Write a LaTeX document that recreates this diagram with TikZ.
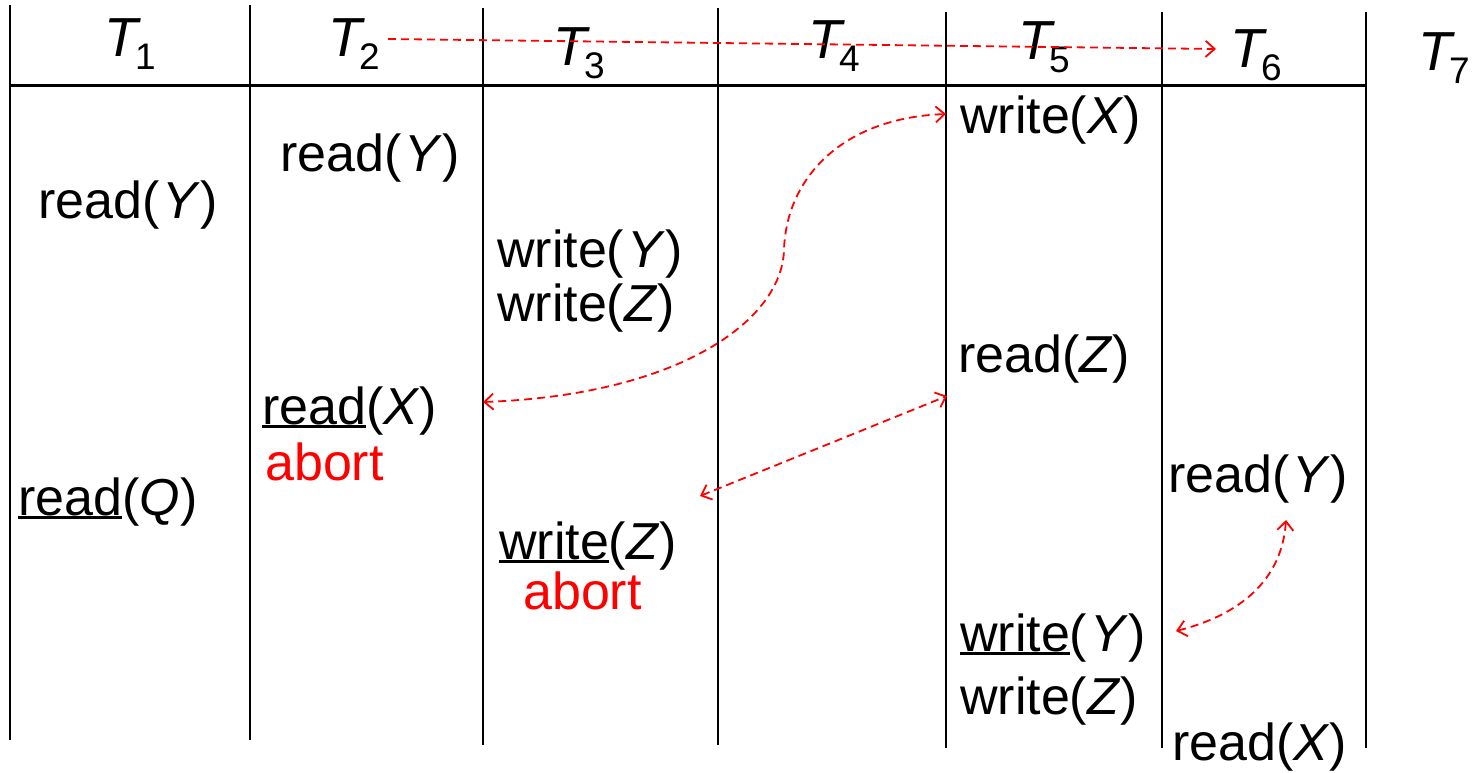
\documentclass[tikz,border=0pt]{standalone}
\usepackage{fontspec}
\setmainfont{Liberation Sans}
\usetikzlibrary{arrows.meta}
\newcommand\ulx[1]{\setbox0=\hbox{#1}\rlap{\rule[-3.5pt]{\wd0}{2.2pt}}\box0}
\newcommand\TT[1]{\textit{T}\kern-6pt\raisebox{-13pt}{\fontsize{37}{40}\selectfont #1}}
\begin{document}
\begin{tikzpicture}[x=1pt,y=-1pt,
  op/.style={anchor=base west,inner sep=0pt,font=\fontsize{52}{60}\selectfont},
  hdr/.style={anchor=base west,inner sep=0pt,font=\fontsize{55}{60}\selectfont},
  ab/.style={op,text=red},
  col/.style={line width=1.6pt},
  dep/.style={red,line width=1.8pt,dash pattern=on 8pt off 5pt,
    {Straight Barb[length=9pt,width=16pt]}-{Straight Barb[length=9pt,width=16pt]}},
  dep1/.style={red,line width=1.8pt,dash pattern=on 8pt off 5pt,
    -{Straight Barb[length=9pt,width=16pt]}}]
\useasboundingbox (0,0) rectangle (1478,772);
% columns
\draw[col] (10,5) -- (10,740);
\draw[col] (250,5) -- (250,740);
\draw[col] (483,8) -- (483,745);
\draw[col] (718,8) -- (718,745);
\draw[col] (946,12) -- (946,748);
\draw[col] (1162,12) -- (1162,748);
\draw[col] (1366,12) -- (1366,748);
\draw[line width=3pt] (10,85) -- (1366,85);
% headers
\node[hdr] (h1) at (104,56) {\TT{1}};
\node[hdr] (h2) at (328,56) {\TT{2}};
\node[hdr] (h3) at (553,65) {\TT{3}};
\node[hdr] (h4) at (808,58) {\TT{4}};
\node[hdr] (h5) at (1018,59) {\TT{5}};
\node[hdr] (h6) at (1230,67) {\TT{6}};
\node[hdr] (h7) at (1418,70) {\TT{7}};
% operations
\node[op] (t1ry) at (38,218) {read(\hspace{3pt}\textit{Y})};
\node[op] (t1rq) at (18,515) {\ulx{read}(\textit{Q})};
\node[op] (t2ry) at (280,171) {read(\hspace{3pt}\textit{Y})};
\node[op] (t2rx) at (262,424) {\ulx{read}(\textit{X})};
\node[ab] (t2ab) at (265,480) {abort};
\node[op] (t3wy) at (497,267) {write(\hspace{3pt}\textit{Y})};
\node[op] (t3wz) at (497,321) {write(\textit{Z})};
\node[op] (t3wz2) at (499,559) {\ulx{write}(\textit{Z})};
\node[ab] (t3ab) at (523,609) {abort};
\node[op] (t5wx) at (960,133) {write(\textit{X})};
\node[op] (t5rz) at (958,372) {read(\textit{Z})};
\node[op] (t5wy) at (960,651) {\ulx{write}(\hspace{3pt}\textit{Y})};
\node[op] (t5wz) at (960,714) {write(\textit{Z})};
\node[op] (t6ry) at (1168,492) {read(\hspace{3pt}\textit{Y})};
\node[op] (t6rx) at (1172,760) {read(\textit{X})};
% connector end points
\coordinate (a1s) at (388,39);
\coordinate (a1e) at (1216,49);
\coordinate (a2s) at (946,114);
\coordinate (a2m) at (784,250);
\coordinate (a2e) at (483,402);
\coordinate (a3s) at (700,496);
\coordinate (a3e) at (947,396);
\coordinate (a4s) at (1176,631);
\coordinate (a4e) at (1286,520);
% connectors
\draw[dep1] (a1s) -- (a1e);
\draw[dep] (a2e) .. controls (680,395) and (782,320) .. (a2m)
  .. controls (786,180) and (840,118) .. (a2s);
\draw[dep] (a3s) -- (a3e);
\draw[dep] (a4s) .. controls (1240,615) and (1282,580) .. (a4e);
\end{tikzpicture}
\end{document}
